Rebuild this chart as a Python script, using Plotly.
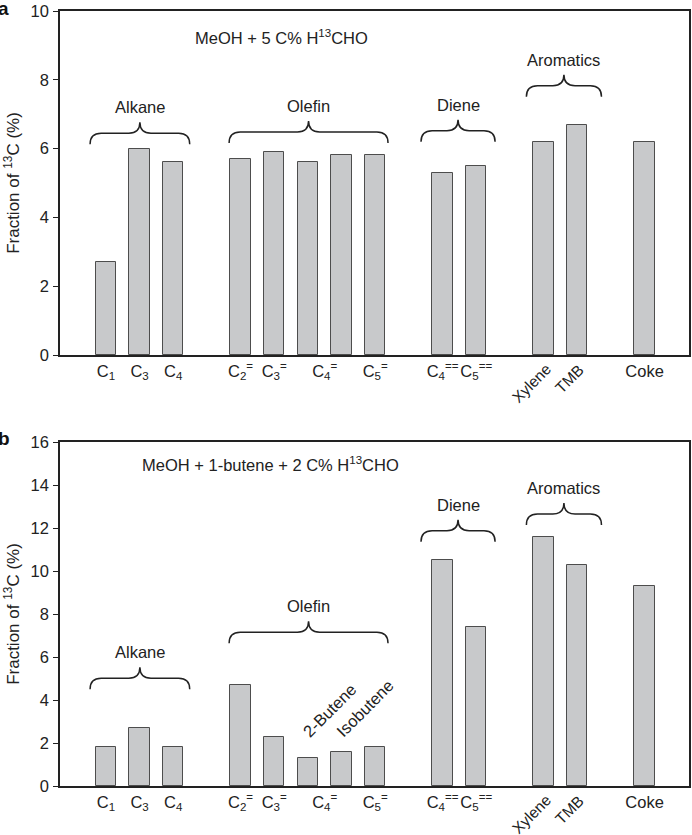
import plotly.graph_objects as go

# ---------------- data ----------------
positions = [0, 1, 2, 4, 5, 6, 7, 8, 10, 11, 13, 14, 16]
top_values = [2.7, 6.0, 5.6, 5.7, 5.9, 5.6, 5.8, 5.8, 5.3, 5.5, 6.2, 6.7, 6.2]
bottom_values = [1.8, 2.7, 1.8, 4.7, 2.3, 1.3, 1.6, 1.8, 10.5, 7.4, 11.6, 10.3, 9.3]

flat_tick_labels = ["C<sub>1</sub>", "C<sub>3</sub>", "C<sub>4</sub>",
                    "C<sub>2</sub><sup>=</sup>", "C<sub>3</sub><sup>=</sup>",
                    "C<sub>4</sub><sup>=</sup>", "C<sub>5</sub><sup>=</sup>",
                    "C<sub>4</sub><sup>==</sup>", "C<sub>5</sub><sup>==</sup>", "Coke"]
flat_tick_pos = [0, 1, 2, 4, 5, 6.5, 8, 10, 11, 16]
tilted_tick_labels = ["Xylene", "TMB"]
tilted_tick_pos = [13, 14]

group_names = ["Alkane", "Olefin", "Diene", "Aromatics"]
group_first_slot = [0, 4, 10, 13]
group_last_slot = [2, 8, 11, 14]

isomer_labels = ["2-Butene", "Isobutene"]
isomer_pos = [6, 7]

top_note = "MeOH + 5 C% H<sup>13</sup>CHO"
bottom_note = "MeOH + 1-butene + 2 C% H<sup>13</sup>CHO"
y_title = "Fraction of <sup>13</sup>C (%)"

# ---------------- layout constants ----------------
W, H = 692, 835
ML, MR, MT, MB = 60, 1, 11, 49
plot_h = H - MT - MB
panel_px = 344
XR = [-1.363, 17.32]
top_range = [0, 10]
bot_range = [0, 16]
top_ppu = panel_px / 10.0
bot_ppu = panel_px / 16.0

FONT = "Liberation Sans, Arial, Helvetica, sans-serif"
INK = "#222222"
FS = 16.5

# brace layout: x padding (slots) and base level per panel
brace_pad = [(-0.47, 0.49), (-0.34, 0.38), (-0.64, 0.56), (-0.51, 0.72)]
brace_base_top = [6.13, 6.16, 6.20, 7.51]
brace_base_bot = [4.50, 6.64, 11.36, 12.14]
BR_H_PX = 11  # half height of brace in px
BR_R = 0.33   # curl radius in slots
LABEL_GAP_PX = 15


def brace_path(x0, x1, yb, h, r):
    xm = (x0 + x1) / 2.0
    y1 = yb + h
    y2 = yb + 2 * h
    return (f"M {x0},{yb} Q {x0},{y1} {x0 + r},{y1} L {xm - r},{y1} "
            f"Q {xm},{y1} {xm},{y2} Q {xm},{y1} {xm + r},{y1} "
            f"L {x1 - r},{y1} Q {x1},{y1} {x1},{yb}")


fig = go.Figure()

bar_style = dict(marker=dict(color="#c8c9cb", line=dict(color="#4d4d4d", width=1)),
                 width=0.61, showlegend=False, hoverinfo="skip")
fig.add_trace(go.Bar(x=positions, y=top_values, xaxis="x", yaxis="y", **bar_style))
fig.add_trace(go.Bar(x=positions, y=bottom_values, xaxis="x2", yaxis="y2", **bar_style))

top_dom = [1 - panel_px / plot_h, 1]
bot_dom = [0, panel_px / plot_h]

xax = dict(range=XR, showgrid=False, zeroline=False, showline=True, linecolor=INK,
           linewidth=1.5, mirror=True, ticks="", tickmode="array", tickangle=0,
           tickvals=flat_tick_pos, ticktext=flat_tick_labels,
           tickfont=dict(family=FONT, size=FS, color=INK), ticklabelstandoff=0)
yax = dict(showgrid=False, zeroline=False, showline=True, linecolor=INK, linewidth=1.5,
           mirror=True, ticks="outside", ticklen=5, tickwidth=1.2, tickcolor=INK,
           tickfont=dict(family=FONT, size=FS, color=INK), ticklabelstandoff=1,
           title=dict(text=y_title, font=dict(family=FONT, size=17, color=INK), standoff=7))

fig.update_layout(
    width=W, height=H, margin=dict(l=ML, r=MR, t=MT, b=MB),
    paper_bgcolor="white", plot_bgcolor="white",
    bargap=0,
    xaxis=dict(xax, domain=[0, 1], anchor="y"),
    yaxis=dict(yax, domain=top_dom, anchor="x", range=top_range, dtick=2),
    xaxis2=dict(xax, domain=[0, 1], anchor="y2"),
    yaxis2=dict(yax, domain=bot_dom, anchor="x2", range=bot_range, dtick=2),
)

shapes = []
annotations = []
for xr, yr, bases, ppu in (("x", "y", brace_base_top, top_ppu), ("x2", "y2", brace_base_bot, bot_ppu)):
    h = BR_H_PX / ppu
    for name, f, l, pad, yb in zip(group_names, group_first_slot, group_last_slot, brace_pad, bases):
        x0 = f + pad[0]
        x1 = l + pad[1]
        shapes.append(dict(type="path", xref=xr, yref=yr, path=brace_path(x0, x1, yb, h, BR_R),
                           line=dict(color=INK, width=1.5)))
        annotations.append(dict(xref=xr, yref=yr, x=(x0 + x1) / 2, y=yb + 2 * h + LABEL_GAP_PX / ppu,
                                text=name, showarrow=False, xanchor="center", yanchor="middle",
                                font=dict(family=FONT, size=FS, color=INK)))
    for lab, px in zip(tilted_tick_labels, tilted_tick_pos):
        annotations.append(dict(xref=xr, yref=yr, x=px, y=0, text=lab, textangle=-45,
                                showarrow=False, xanchor="right", yanchor="top",
                                xshift=13, yshift=-3,
                                font=dict(family=FONT, size=15.5, color=INK)))

annotations.append(dict(xref="x", yref="y", x=2.58, y=9.24, text=top_note, showarrow=False,
                        xanchor="left", yanchor="middle", font=dict(family=FONT, size=FS, color=INK)))
annotations.append(dict(xref="x2", yref="y2", x=1.0, y=15.0, text=bottom_note, showarrow=False,
                        xanchor="left", yanchor="middle", font=dict(family=FONT, size=FS, color=INK)))

for lab, px in zip(isomer_labels, isomer_pos):
    annotations.append(dict(xref="x2", yref="y2", x=px, y=2.0, text=lab, textangle=-45,
                            showarrow=False, xanchor="left", yanchor="bottom", xshift=-11,
                            font=dict(family=FONT, size=FS, color=INK)))

pw = W - ML - MR
annotations.append(dict(xref="paper", yref="paper", x=-(ML + 4) / pw, y=(H - MB - 9) / plot_h,
                        text="<b>a</b>", showarrow=False, xanchor="left", yanchor="middle",
                        font=dict(family=FONT, size=19, color="#111")))
annotations.append(dict(xref="paper", yref="paper", x=-(ML + 4) / pw, y=(H - MB - 438) / plot_h,
                        text="<b>b</b>", showarrow=False, xanchor="left", yanchor="middle",
                        font=dict(family=FONT, size=19, color="#111")))

fig.update_layout(shapes=shapes, annotations=annotations)
fig.write_html("out.html", config={"displayModeBar": False},
               post_script="document.body.style.margin='0px';")
